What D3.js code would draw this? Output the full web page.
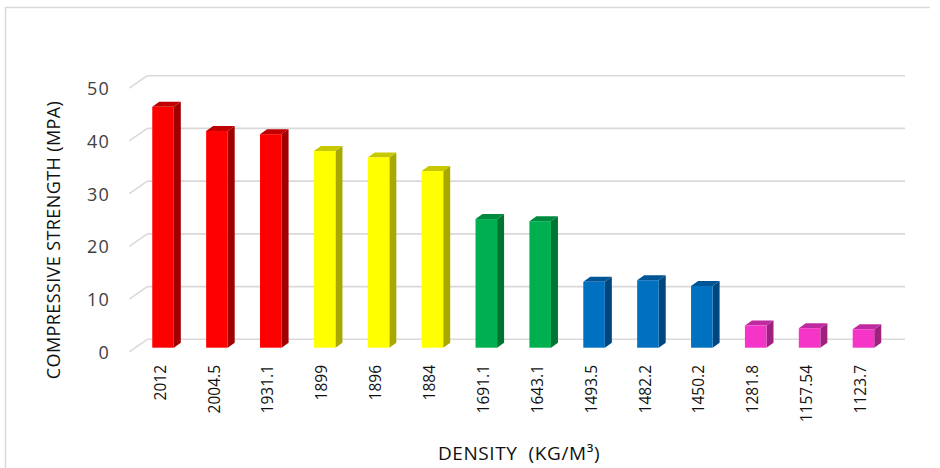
<!DOCTYPE html>
<html>
<head>
<meta charset="utf-8">
<script src="https://cdn.jsdelivr.net/npm/d3@7"></script>
<style>
  html, body { margin: 0; padding: 0; background: #ffffff; }
  svg { display: block; font-family: "Open Sans", "DejaVu Sans", sans-serif; }
</style>
</head>
<body>
<div id="chart"></div>
<script>
// ---- Data ----
const categories = ["2012", "2004.5", "1931.1", "1899", "1896", "1884", "1691.1", "1643.1",
                    "1493.5", "1482.2", "1450.2", "1281.8", "1157.54", "1123.7"];
const strength = [45.7, 41.1, 40.5, 37.3, 36.1, 33.5, 24.4, 24.0, 12.5, 12.8, 11.7, 4.2, 3.7, 3.5];
const groupIndex = [0, 0, 0, 1, 1, 1, 2, 2, 3, 3, 3, 4, 4, 4];
const frontColors = ["#FF0000", "#FFFF00", "#00B050", "#0070C0", "#F535C8"];
const sideColors  = ["#A00000", "#A8A800", "#007433", "#00467F", "#A0207F"];
const topColors   = ["#C00000", "#C8C800", "#008A3E", "#005597", "#C02AA0"];
const yTicks = [0, 10, 20, 30, 40, 50];
const yTitle = "COMPRESSIVE STRENGTH (MPA)";
const xTitle = "DENSITY  (KG/M\u00B3)";

// ---- Layout ----
const W = 940, H = 468;
const svg = d3.select("#chart").append("svg").attr("width", W).attr("height", H);

// outer frame (top & left edges visible)
svg.append("path")
  .attr("d", "M5.5,468 L5.5,7.5 L930,7.5")
  .attr("fill", "none").attr("stroke", "#d9d9d9").attr("stroke-width", 1.5);

// scales: back wall, bar plane and front (label) plane
const yBack  = d3.scaleLinear().domain([0, 50]).range([339.3, 75.7]);
const yBar   = d3.scaleLinear().domain([0, 50]).range([347.7, 84.1]);
const yFront = d3.scaleLinear().domain([0, 50]).range([351.8, 88.2]);
const x = d3.scaleBand().domain(categories).range([136.1, 890.4]).paddingInner(0.6).paddingOuter(0.3);
const xLab = x.copy().range([133.1, 887.4]);
const bw = x.bandwidth();
const depthX = 7, depthY = -5;

// gridlines on back wall + diagonal side-wall stubs
const grid = svg.append("g");
yTicks.forEach(t => {
  grid.append("line")
    .attr("x1", 147.3).attr("x2", 905)
    .attr("y1", yBack(t)).attr("y2", yBack(t))
    .attr("stroke", "#d9d9d9").attr("stroke-width", 1.6);
  grid.append("line")
    .attr("x1", 129.3).attr("y1", yFront(t))
    .attr("x2", 147.3).attr("y2", yBack(t))
    .attr("stroke", "#d9d9d9").attr("stroke-width", 1.6);
});

// y axis labels
const yAxis = svg.append("g").attr("transform", "translate(110,0)")
  .call(d3.axisLeft(yFront).tickValues(yTicks).tickSize(0).tickPadding(0));
yAxis.select(".domain").remove();
yAxis.selectAll("text")
  .attr("font-family", "'Open Sans', sans-serif")
  .attr("font-size", 18).attr("fill", "#404040")
  .attr("letter-spacing", 1.2).attr("dy", "0.36em");

// bars
const bars = svg.append("g").selectAll("g").data(categories).join("g");
bars.each(function(c, i) {
  const g = d3.select(this);
  const x0 = x(c), x1 = x0 + bw;
  const yt = yBar(strength[i]), yb = yBar(0);
  const gi = groupIndex[i];
  g.append("path")
    .attr("d", `M${x1},${yt} L${x1 + depthX},${yt + depthY} L${x1 + depthX},${yb + depthY} L${x1},${yb} Z`)
    .attr("fill", sideColors[gi]);
  g.append("path")
    .attr("d", `M${x0},${yt} L${x0 + depthX},${yt + depthY} L${x1 + depthX},${yt + depthY} L${x1},${yt} Z`)
    .attr("fill", topColors[gi]);
  g.append("rect")
    .attr("x", x0).attr("y", yt).attr("width", bw).attr("height", yb - yt)
    .attr("fill", frontColors[gi]);
});

// x axis labels (rotated)
const xAxis = svg.append("g").attr("transform", "translate(0,356)")
  .call(d3.axisBottom(xLab).tickSize(0));
xAxis.select(".domain").remove();
xAxis.selectAll("text")
  .attr("font-family", "'Open Sans', sans-serif")
  .attr("font-size", 15.5).attr("fill", "#111111")
  .attr("transform", "rotate(-90)")
  .attr("text-anchor", "end")
  .attr("x", -9).attr("y", 0).attr("dy", "0.36em");

// axis titles
svg.append("text")
  .attr("transform", "translate(60,240) rotate(-90)")
  .attr("text-anchor", "middle")
  .attr("font-size", 18).attr("letter-spacing", 0.4).attr("fill", "#111111")
  .text(yTitle);

svg.append("text")
  .attr("x", 519).attr("y", 460)
  .attr("text-anchor", "middle")
  .attr("font-size", 19).attr("letter-spacing", 0.6).attr("fill", "#111111")
  .style("white-space", "pre")
  .text(xTitle);
</script>
</body>
</html>
